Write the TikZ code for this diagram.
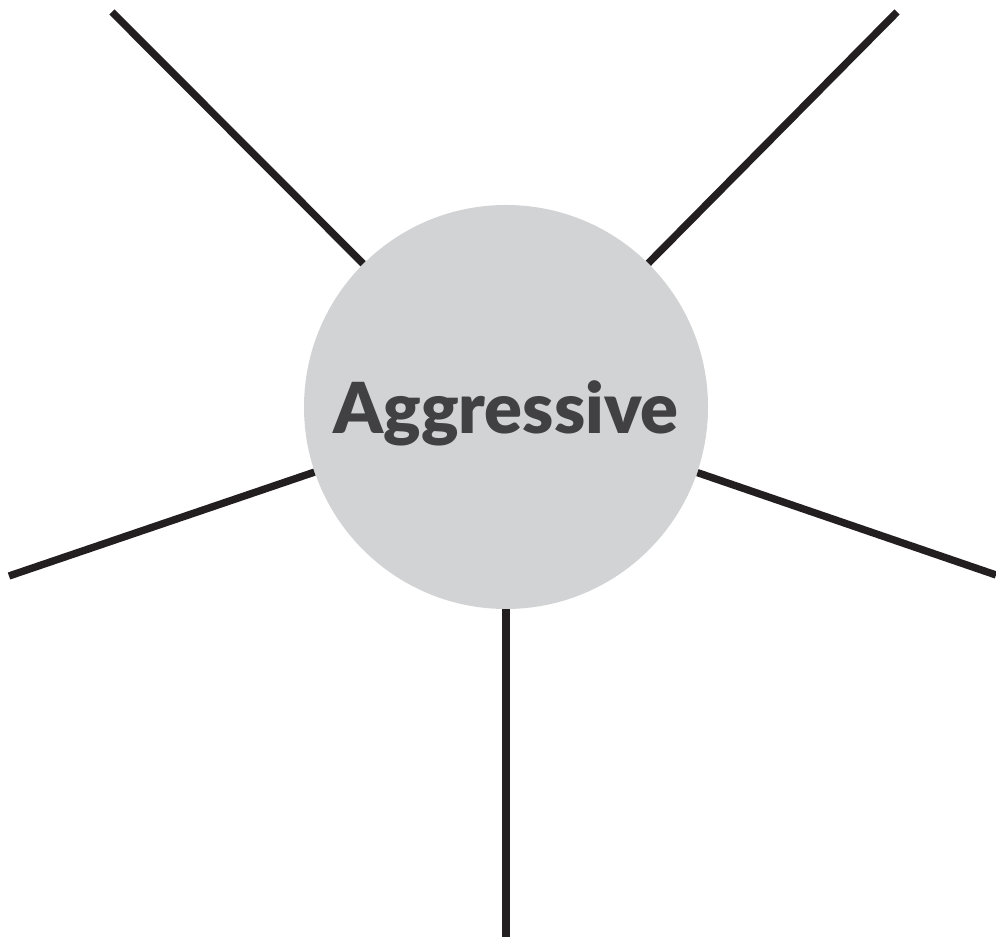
\documentclass[tikz,border=0pt]{standalone}
\usepackage{fontspec}
\setsansfont{Lato}[BoldFont={Lato Black}]
\usepackage{xcolor}
\definecolor{hubGray}{HTML}{D1D3D4}
\definecolor{textGray}{HTML}{414042}
\definecolor{spokeBlack}{HTML}{231F20}
\usetikzlibrary{positioning, calc}
\tikzset{
    hub/.style={circle, fill=hubGray, minimum size=8.08cm, inner sep=0pt, text depth=0pt, font=\sffamily\bfseries\fontsize{40}{40}\selectfont, text=textGray},
    spoke/.style={draw=spokeBlack, line width=4.2pt}
}

\begin{document}
\begin{tikzpicture}
    \useasboundingbox (0,0) rectangle (19.92,18.74);

    % --- central trait ---
    \node[hub] (trait) at (10.12,10.6) {Aggressive};

    % free ends of the spokes
    \coordinate (tl) at (2.24,18.50);
    \coordinate (tr) at (17.94,18.50);
    \coordinate (lf) at (0.18,7.22);
    \coordinate (rt) at (19.92,7.24);
    \coordinate (bt) at (10.12,0);

    \draw[spoke] (trait) -- (tl);
    \draw[spoke] (trait) -- (tr);
    \draw[spoke] (trait) -- (lf);
    \draw[spoke] (trait) -- (rt);
    \draw[spoke] (trait) -- (bt);
\end{tikzpicture}
\end{document}
